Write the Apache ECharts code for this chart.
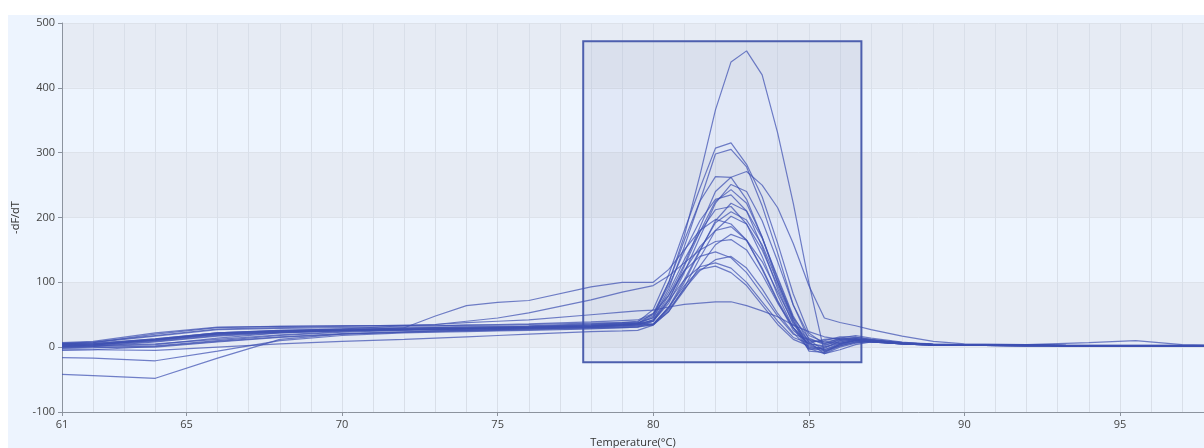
<!DOCTYPE html>
<html>
<head>
<meta charset="utf-8">
<script src="https://cdn.jsdelivr.net/npm/echarts@6/dist/echarts.min.js"></script>
<style>
html,body{margin:0;padding:0;background:#ffffff;width:1204px;height:448px;overflow:hidden;}
#c{position:absolute;left:8px;top:15px;width:1196px;height:433px;}
</style>
</head>
<body>
<div id="c"></div>
<script>
// Temperature sample points (°C)
const temps = [61, 62, 64, 66, 68, 70, 72, 73, 74, 75, 76, 78, 79, 79.5, 80, 80.5, 81, 81.5, 82, 82.5, 83, 83.5, 84, 84.5, 85, 85.5, 86, 86.5, 87, 88, 89, 90, 92, 94, 95.5, 97, 97.7];

// -dF/dT melt curves, one per well
const well01 = [2, 3, 12, 22, 25, 26, 27, 28, 28, 29, 30, 33, 35, 37, 48, 100, 172, 265, 366, 440, 457, 420, 330, 222, 100, -8, 5, 10, 9, 6, 4, 3, 3, 2, 2, 2, 2];
const well02 = [5, 7, 20, 30, 32, 33, 33, 33, 34, 34, 35, 37, 38, 39, 58, 112, 180, 245, 307, 315, 282, 232, 160, 82, 22, 5, 14, 18, 14, 8, 4, 3, 3, 2, 2, 2, 2];
const well03 = [-2, -1, 2, 10, 18, 23, 26, 27, 28, 29, 30, 32, 34, 36, 46, 90, 155, 225, 298, 305, 278, 218, 145, 65, 12, -6, 2, 8, 10, 6, 4, 3, 3, 2, 2, 2, 2];
const well04 = [7, 9, 22, 31, 32, 33, 33, 33, 34, 35, 36, 39, 41, 42, 52, 80, 128, 185, 240, 262, 271, 250, 215, 160, 95, 45, 38, 33, 27, 17, 9, 5, 4, 7, 10, 4, 3];
const well05 = [0, 1, 4, 14, 22, 26, 28, 28, 29, 30, 31, 33, 35, 36, 52, 100, 165, 225, 263, 262, 228, 170, 100, 42, -2, -10, 0, 6, 9, 6, 4, 3, 3, 2, 2, 2, 2];
const well06 = [3, 4, 11, 21, 25, 27, 28, 29, 29, 30, 31, 34, 36, 37, 40, 68, 115, 170, 222, 251, 240, 195, 132, 65, 18, 8, 12, 15, 12, 7, 4, 3, 3, 2, 2, 2, 2];
const well07 = [1, 2, 5, 12, 19, 24, 27, 27, 28, 28, 29, 31, 33, 34, 40, 72, 125, 178, 225, 243, 222, 170, 105, 45, 0, -6, 4, 10, 8, 5, 3, 3, 2, 2, 2, 2, 2];
const well08 = [6, 7, 17, 27, 29, 30, 31, 31, 32, 32, 33, 36, 38, 40, 50, 95, 148, 195, 228, 235, 210, 155, 90, 35, 8, 10, 16, 16, 12, 7, 4, 3, 3, 2, 2, 2, 2];
const well09 = [-1, 0, 0, 8, 15, 20, 23, 25, 26, 27, 28, 30, 32, 33, 36, 60, 100, 148, 195, 222, 210, 168, 108, 48, 8, -10, -4, 4, 8, 5, 3, 3, 2, 2, 2, 2, 2];
const well10 = [4, 5, 13, 22, 26, 28, 29, 30, 30, 31, 32, 35, 37, 38, 45, 85, 135, 178, 212, 217, 190, 140, 80, 30, -4, -2, 10, 13, 11, 6, 4, 3, 3, 2, 2, 2, 2];
const well11 = [2, 3, 10, 19, 24, 26, 27, 28, 28, 29, 30, 32, 34, 35, 36, 62, 104, 150, 192, 209, 196, 158, 100, 45, 14, 4, 8, 12, 10, 6, 4, 3, 3, 2, 2, 2, 2];
const well12 = [-5, -4, 1, 9, 16, 21, 24, 25, 26, 27, 28, 30, 31, 32, 34, 55, 92, 138, 180, 202, 190, 150, 95, 40, -6, -8, 2, 7, 8, 5, 3, 3, 2, 2, 2, 2, 2];
const well13 = [4, 5, 12, 20, 23, 25, 30, 48, 64, 69, 72, 93, 100, 100, 100, 120, 150, 180, 197, 190, 165, 122, 72, 30, 4, -4, 6, 11, 10, 6, 4, 3, 3, 2, 2, 2, 2];
const well14 = [1, 2, 9, 18, 23, 26, 27, 28, 28, 29, 30, 32, 34, 35, 42, 75, 118, 155, 180, 186, 165, 120, 70, 26, 5, 2, 12, 14, 10, 6, 4, 3, 3, 2, 2, 2, 2];
const well15 = [5, 6, 13, 22, 26, 28, 29, 30, 30, 31, 32, 34, 36, 37, 35, 55, 88, 125, 158, 174, 165, 132, 85, 38, 10, 8, 6, 10, 9, 5, 3, 3, 2, 2, 2, 2, 2];
const well16 = [6, 8, 18, 28, 30, 32, 34, 35, 40, 45, 53, 73, 85, 90, 95, 110, 130, 150, 163, 166, 150, 112, 68, 30, 6, 0, 8, 12, 10, 6, 4, 3, 3, 2, 2, 2, 2];
const well17 = [0, 1, 8, 17, 22, 25, 27, 27, 28, 28, 29, 31, 33, 34, 42, 80, 118, 140, 147, 138, 115, 82, 48, 20, 12, 6, 10, 13, 11, 6, 4, 3, 3, 2, 2, 2, 2];
const well18 = [-16, -17, -21, -6, 10, 18, 22, 23, 24, 25, 26, 28, 30, 31, 35, 58, 90, 118, 135, 140, 122, 90, 52, 22, -2, 0, 6, 10, 9, 5, 3, 3, 2, 2, 2, 2, 2];
const well19 = [-42, -44, -48, -17, 12, 20, 23, 24, 25, 26, 27, 29, 30, 31, 40, 72, 104, 124, 130, 122, 100, 70, 40, 15, 6, 12, 14, 12, 9, 6, 4, 3, 3, 2, 2, 2, 2];
const well20 = [-4, -4, -5, 0, 5, 9, 12, 14, 16, 18, 20, 24, 25, 26, 34, 62, 95, 120, 125, 115, 95, 65, 35, 12, 2, -4, 4, 8, 8, 5, 3, 3, 2, 2, 2, 2, 2];
const well21 = [3, 4, 11, 20, 24, 28, 33, 35, 38, 40, 42, 50, 54, 56, 57, 62, 66, 68, 70, 70, 64, 56, 47, 34, 24, 16, 12, 11, 10, 7, 5, 4, 3, 3, 3, 3, 3];

const wells = [well01, well02, well03, well04, well05, well06, well07, well08, well09, well10, well11, well12, well13, well14, well15, well16, well17, well18, well19, well20, well21];

// Axis ticks / labels
const xTickLabels = [61, 65, 70, 75, 80, 85, 90, 95];
const xMin = 61, xMax = 97.7;
const yMin = -100, yMax = 500, yStep = 100;

// Selected melt region (box)
const regionX = [77.75, 86.69];
const regionY = [-23.4, 471.7];

const font = '"Open Sans", "Noto Sans", sans-serif';
const lineColor = 'rgba(62,80,178,0.72)';

const series = wells.map((w, i) => {
  const s = {
    type: 'line',
    xAxisIndex: 0,
    data: temps.map((t, k) => [t, w[k]]),
    showSymbol: false,
    symbol: 'none',
    silent: true,
    lineStyle: { color: lineColor, width: 1.2 },
    z: 3
  };
  if (i === 0) {
    s.markArea = {
      silent: true,
      z: 1,
      itemStyle: {
        color: 'rgba(70,90,150,0.07)',
        borderColor: '#4d5fae',
        borderWidth: 2
      },
      data: [[{ xAxis: regionX[0], yAxis: regionY[1] }, { xAxis: regionX[1], yAxis: regionY[0] }]]
    };
  }
  return s;
});

const chart = echarts.init(document.getElementById('c'), null, { renderer: 'canvas' });
chart.setOption({
  backgroundColor: '#EDF4FE',
  animation: false,
  textStyle: { fontFamily: font },
  grid: { left: 54, top: 8, right: 0, bottom: 36, containLabel: false, outerBoundsMode: 'none' },
  xAxis: [
    {
      type: 'value', min: xMin, max: xMax, interval: 1,
      axisLine: { show: false }, axisTick: { show: false }, axisLabel: { show: false },
      splitLine: { show: true, lineStyle: { color: '#d9dfe9', width: 1 } }
    },
    {
      type: 'value', min: xMin, max: xMax, position: 'bottom',
      name: 'Temperature(°C)', nameLocation: 'middle', nameGap: 25,
      nameTextStyle: { color: '#333', fontSize: 11, fontFamily: font },
      axisLine: { show: true, lineStyle: { color: '#8c939e', width: 1 } },
      axisTick: { show: true, length: 4, customValues: xTickLabels, lineStyle: { color: '#8c939e' } },
      axisLabel: { show: true, customValues: xTickLabels, color: '#444', fontSize: 11, margin: 7, fontFamily: font },
      splitLine: { show: false }
    }
  ],
  yAxis: {
    type: 'value', min: yMin, max: yMax, interval: yStep,
    name: '-dF/dT', nameLocation: 'middle', nameGap: 38,
    nameTextStyle: { color: '#333', fontSize: 11, fontFamily: font },
    axisLine: { show: true, lineStyle: { color: '#8c939e', width: 1 } },
    axisTick: { show: true, length: 4, lineStyle: { color: '#8c939e' } },
    axisLabel: { color: '#444', fontSize: 11, margin: 7, fontFamily: font },
    splitLine: { show: true, lineStyle: { color: '#dde2ea', width: 1 } },
    splitArea: { show: true, areaStyle: { color: ['#EDF4FE', '#E6EBF4'] } }
  },
  series: series
});
</script>
</body>
</html>
